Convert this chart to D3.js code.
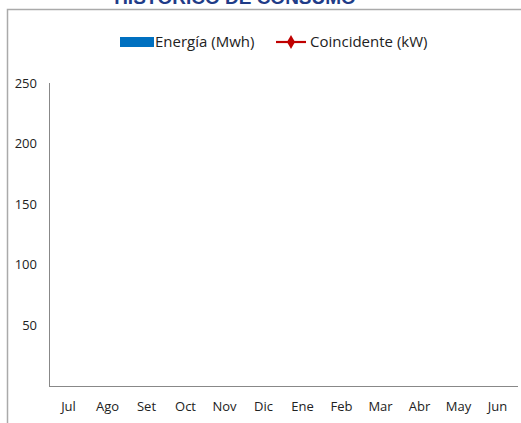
<!DOCTYPE html>
<html><head><meta charset="utf-8">
<script src="https://cdn.jsdelivr.net/npm/d3@7"></script>
<style>html,body{margin:0;padding:0;background:#fff;overflow:hidden}</style>
</head><body>
<svg id="c" width="521" height="423"></svg>
<script>
const months = ["Jul","Ago","Set","Oct","Nov","Dic","Ene","Feb","Mar","Abr","May","Jun"];
const energia = [null,null,null,null,null,null,null,null,null,null,null,null];
const coincidente = [null,null,null,null,null,null,null,null,null,null,null,null];
const yTicks = [50,100,150,200,250];
const title = "HISTÓRICO DE CONSUMO";
const seriesNames = ["Energía (Mwh)","Coincidente (kW)"];

const svg = d3.select("#c");
const font = "'Open Sans', sans-serif";

// frame
svg.append("path").attr("d","M7.5,423 L7.5,9.5 L521,9.5").attr("fill","none").attr("stroke","#aaa").attr("stroke-width",1.5);

// title (cut off at top, as in the reference)
svg.append("text").attr("x",235).attr("y",4).attr("text-anchor","middle")
  .attr("font-family","'Liberation Sans', Arial, sans-serif").attr("font-weight","bold")
  .attr("font-size",19).attr("fill","#1F3C88").text(title);

const x = d3.scaleBand().domain(months).range([49,517]);
const y = d3.scaleLinear().domain([0,250]).range([386,83]);

// axes
const gx = svg.append("g").attr("transform","translate(0,386)")
  .call(d3.axisBottom(x).tickSize(0).tickPadding(16));
gx.select(".domain").attr("stroke","#888").attr("d","M49,0.5H518");
gx.selectAll("text").attr("font-family",font).attr("font-size",13).attr("fill","#222");

const gy = svg.append("g").attr("transform","translate(49,0)")
  .call(d3.axisLeft(y).tickValues(yTicks).tickSize(0).tickPadding(12));
gy.select(".domain").attr("stroke","#888").attr("d","M0.5,83V386");
gy.selectAll("text").attr("font-family",font).attr("font-size",13).attr("fill","#222");

// bars (no data shown in reference)
const bw = x.bandwidth()*0.6;
svg.append("g").selectAll("rect").data(months.map((m,i)=>({m,v:energia[i]})).filter(d=>d.v!=null))
  .join("rect").attr("x",d=>x(d.m)+(x.bandwidth()-bw)/2).attr("width",bw)
  .attr("y",d=>y(d.v)).attr("height",d=>y(0)-y(d.v)).attr("fill","#0070C0");

const pts = months.map((m,i)=>({m,v:coincidente[i]})).filter(d=>d.v!=null);
svg.append("path").datum(pts).attr("fill","none").attr("stroke","#C00000").attr("stroke-width",2)
  .attr("d",d3.line().x(d=>x(d.m)+x.bandwidth()/2).y(d=>y(d.v)));

// legend
const lg = svg.append("g");
lg.append("rect").attr("x",120).attr("y",37).attr("width",34).attr("height",10).attr("fill","#0070C0");
lg.append("text").attr("x",155).attr("y",47).attr("font-family",font).attr("font-size",15).attr("fill","#222").text(seriesNames[0]);
lg.append("line").attr("x1",276).attr("x2",306).attr("y1",42).attr("y2",42).attr("stroke","#C00000").attr("stroke-width",2.2);
lg.append("path").attr("d",d3.symbol(d3.symbolDiamond,55)()).attr("transform","translate(291,42)").attr("fill","#C00000");
lg.append("text").attr("x",310).attr("y",47).attr("font-family",font).attr("font-size",15).attr("fill","#222").text(seriesNames[1]);
</script>
</body></html>
